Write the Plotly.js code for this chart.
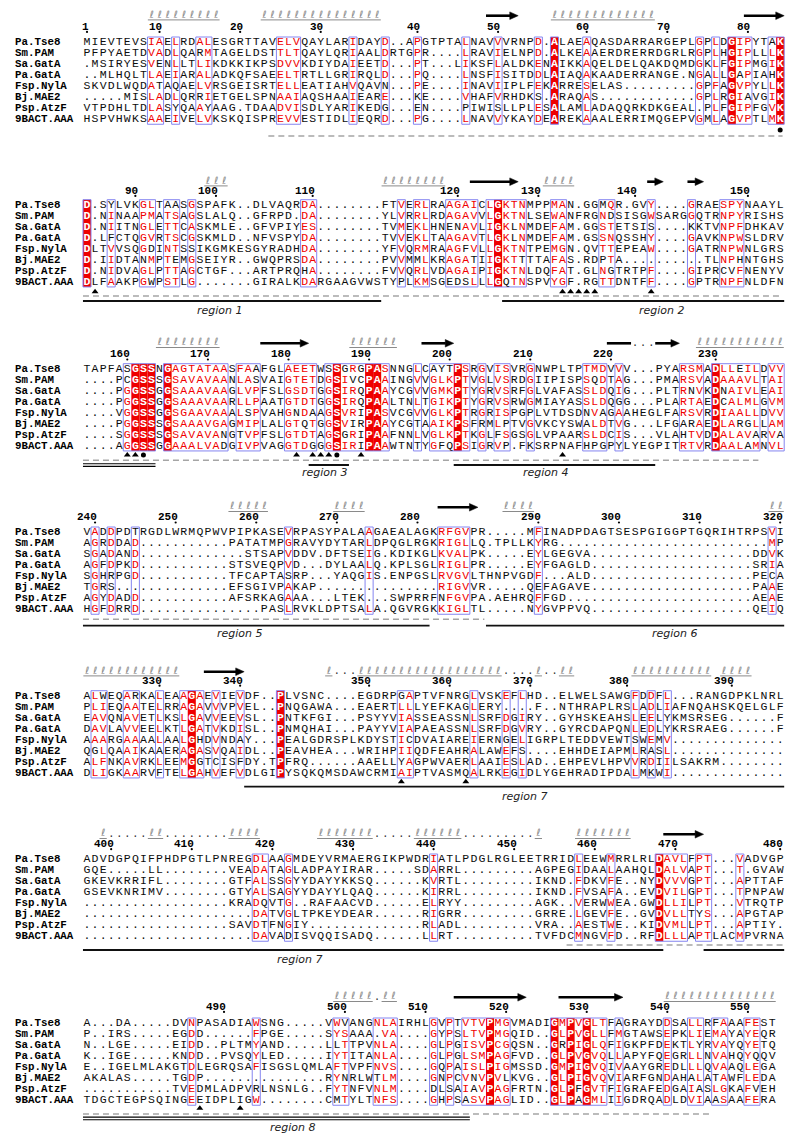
<!DOCTYPE html>
<html>
<head>
<meta charset="utf-8">
<script src="https://cdn.plot.ly/plotly-3.0.1.min.js"></script>
<style>
html,body{margin:0;padding:0;background:#ffffff;}
#chart{width:800px;height:1146px;}
</style>
</head>
<body>
<div id="chart"></div>
<script>
// ================= DATA =================
// Sequence names (same order in every block)
const names = ["Pa.Tse8","Sm.PAM","Sa.GatA","Pa.GatA","Fsp.NylA","Bj.MAE2","Psp.AtzF","9BACT.AAA"];

// Aligned sequences. Digits = run of that many gap dots.
// Lower-case letter = residue inside a framed column that is NOT highlighted (drawn black).
const seq1 = [
"MIEVTEVSIAELRDALESGRTTAVELVQAYLARIDAYD..APGTPTALNAVVVRNPD.ALAEAQASDARRARGEPLGPLDGIPYTaK",
"PFPYAETDVADLQArMTAGELDSTTLTQAYLQRIAALDRTGPR4LRAVIELNPD.ALKEAAERDRERRDGRLRGPLHGIPLLLK",
".MSIRYESVeNLLTLIKDKKIKPSDVVKDIYDAIEETD3PT3LIKSFLALDKENAIKKAQELDELQAKDQMDGKLFGIPMGIK",
"..MLHQLTLAEIARALADKQFSAEELTRTLLGRIRQLD3PQ4LNSFISITDDLAIAQAKAADERRANGE.NGALLGaPIAhK",
"SKVDLWQDAtAqAELVRSGEISRTELLEATIAHVQAVn3PE4INAVIIPLFEKARRESELAS9GPFAGVPYLLK",
"5MISLADLQRrIETGELSPNAAIAQSHAAIEARE3kE4VHAFVRHDKs.ARAQAS12GPLRGIaVGIK",
"VTPDHLTDLASyQAAyAAG.TDAADVISDLYARIKEDg3eN4pIWIsLLPLESALAMLADAQQRKDKGEAL.PLFGIPFGVK",
"HSPVHWKSAAEIVELVKSKQISPREVVESTIDLIEQRD3PG4LNAVVYKAYDEAREKAAALERRIMQGEPVGMLAGVPTLMK"
];
const seq2 = [
"D.SyLVKGLTaaSGSPAFK..DLVAQRDA8FTVERLRAAGAICLGKTNMPPMAN.GGmQR.GVY4GRAESPYNAAYL",
"D.NINAAPMATSAGSLALQ..GFRPD.DA8YLVRRLRDAGAVVLGKTNLSEWANFRGNdSISGWSARGGQTRNPYRISHS",
"D.NIITNGLETTCASKMLE..GFVPIYES8TVMEKLHNenAVLIGKlNMDEFAM.GGSTETSIs4kKTVNPFDHKAV",
"D.LfCTQGVRTSCGSKMLD..NFVSPYDA8TVVEKLTAAGAVTLGKlNMDEFAM.GSSNQSSHY4GAVKNPWSLDRV",
"DLTVVSQGdINTSsIKGMKESGYRADHDA8YFVQRMRAAGfVLLGKTNTPEMGN.QVTTEPEAW4GATRNPWNLGRS",
"D.IIDTAnMPTeMGSEIYR..GWQPRSDA8PVVMmLKRAGAtIIGKTtTTAFAS.RDpTA10TLNPhNTGHS",
"D.NIDVAGLPTTAGCTGF3ARTPRQhA8FVVQRLVDAGAIPIGKTNLDQFAT.GLNgTRTPF4GIPRcvFNENYV",
"DLFAAKPGwPSTLG7GIRALKDARGAAGVWSTYpLKMSGedsLLLGqTNSPVYGF.RGTTDNTFF4GPTRNPFNLDFN"
];
const seq3 = [
"TAPFAsGSSNGAGTATAASFAaFGLAEETWsSgRgPASNNGLCaytPSRGVISVRGNWPLTPTMDVVV3PYARSMADLLeILDVV",
"4PcGSSSGSAVAVAANLAsVAIGTETDGSIvcPAAINGVVGLKPTVGLVSRDGIIPISPSqDTAG3PMARSVADAAAVLTAI",
"4PGGSSGGSAAAVAAGLVPFSLGSDTGGSIRqPAAYCGVVGMKPTYGRVSRFGLVAFASSLDQIG3PLTRnVKDnAIVLEAI",
"4PGGSSGGSAAAVAARLLPAATGTDTGGSIRqPAALTNLTGIKPTYGRVSRWGMIAYASSLDQgG3PLARTAEDcALMLGVM",
"4VGGSSGGSGAAVAAALsPVAHGnDaAGSVRiPASVCGVVGLKPTRGRISPGpLVTDSDnVaGAAHEGLFARSVRDIAALLDVV",
"4PGGSSSGSAAAVGAGMIPLALGTqTGGSVirPAAYCGtAAIKPSFrMLpTVGVKCYSWaLDTVG3LFGarAEDLArgLLAM",
"4SGGSSSGSAVAVAnGtVPFSLGTDTAGSgRiPAAFNNLVGLKPTKGLfSGSGLVPAARSLDCIS3VLAhTVDDALAVaRVa",
"4AGGSSGGAAALVAdGIVPVAGGTDgGGSIRiPAAWTNtYGfqPSIGRVp.FkSRPNAFhpgPyLYEGPITRTVRDAALaMNVL"
];
const seq4 = [
"VADDPDtRGDLWRMQPWVPIPKASEVRPASYPALAAGAEALAGKRFGVPR5MFINADPDAGTSESPGIGGPTGQRIHTRPSVI",
"AGRDDAD11PATATMPGRAVYDYTARLDPQGLRGKRIGLLQ.TPLLKYRG26MP",
"SGADAND13STSAPVDDV.DFTSEIG.KDIKGLKVALPK5EYLGEGVA20DDVK",
"AGFDPKD11STSVEQPVD3DYLAALQ.KPLSGLRIGLPR5EYFGAGLD20SRIA",
"SGHrPGD11TFCAPTAsRP3YAQGIS.ENPGSLRVGVLTHNPVGDF3ALD20PEcA",
"TGRs14EFSGIVPAKAP15RIGVVR5QeFAGAVE20PAAE",
"AGYDADD11AFSRKAGAAA3LTEK3SWPRRFnFGVPA.AEHRQFFGD23AEAE",
"HGFDRRD15PASLRVKLDPTSALA.QGVRGKKIGLTL5NYGVPPVQ20QEIQ"
];
const seq5 = [
"ALwEQArKALEAAGAEVIEVDF..PLVSNC4EGDRPgAPTVFNRGLVSKEFLHD..ELWELSAWGFDDFL3RANGDPKLNRL",
"PLIEQAATELRRAGAVVVPVEL..PNQGAWA3EAERTLLLYEFKAGLERY4F..NTHRAPLRSLADLIAFNQAHSKQELGLF",
"EAVQNAVETLKSLGAVVEEVSL..PNTKFGI3PSYYVIASSEASSNLSRFDGIRY..GYHSKEAHSLEELyKMSRSEG6F",
"DAVLAVVEELKTLGATVKDISL..PNMQHAI3PAYYVIAPAEASSNLSRFDGVRY..GYRCDAPQNLEDLyKRSRAEG6F",
"AAARGAAAALAALGhDVNDaY3PEALGDRSPLKDYSTIcDVAIAREIERNgELIGRPLTEDDVEWTsWEMV14",
"QgLQAAIKAaERAGASVQAIDL..PEAVHEA3WRIHPIIQDFEAHRALAWEFs4EHHDEIAPMLRaSL14",
"ALFNKAVRKLEEMGgTcISfDY.TPFRQ6AAELLyAGPWVAERLAAIESLAD..EHPEVLHPVVRDIILSAKRM8",
"DLIGKAARVfTELGAHVEFVDLGIPYSQKQMSDAWCRMIAIPTVASMQALRKEGIDLYGEHRADIPDALMkWI14"
];
const seq6 = [
"ADVDGPQIFPHDPGTLPNREGDLAAGMDEYVRMAERGIKPWDRIATLPDGLRGLEETRRIDLEEWMRRLRLDAVLFPT3VADVGP",
"GQE5LL8VEADATAGLADPAYIRAR5SDARRL9AGPEGIDAALAAHQLDALVAPT3T.GVAW",
"GKEVKRRIFL8GTFALSSGYYDAYYKKSQ6KVRTL9IKND.FDKVFE..NYDVVVGPT3APTTAF",
"GSEVKNRIMV8GTYALSAGYYDAYYLQAQ6KIRRL9IKND.FVSAFA..EVDVILGPT3TPNPAW",
"18KRADqVTG..RAFAACVD6ELRYY9AGK..VERWWEA.GWDLLILPT3VTRQTP",
"21DATVGLTPKEYDEAR6RIGRR9GRRE.LGEVFE..GVDVLLTyS3APGTAP",
"18SAVDtFNGIY14RLADL9VRA..AESTWE..KIDVMLLPT3APTIY.",
"21DAVAdISVQQISADQ6LLRT10TVFDCMNGVFD..RFDLLLAPTLACMPVRNA"
];
const seq7 = [
"A3DA5DVNPASADIAWSNG5VWvANGNLAIRHLGVPTVTVPMGVMADIGMPVGLTFaGRAYDDSALLRfAAAFEST",
"P..IRS5EGDD6FPGE5SYSAAA.VA4GYPSLTVPMGQID..GLPVGLLFMGTAWSEPKLIEMAYAYEQR",
"N..LGE5EIDD..PLTMYAND5LlTTPVNLA4GLPGISVPCGQSN..GrPIGLQFIGKPFDEKTLyRVAYQYETQ",
"K..IGE5KNDD..PVSQYLED5IYTITANLA4GLPGLSMPAGFVD..GLPVGVQLLAPYFQEGRLLNVAHQYqQV",
"E..IGELMLAKGTDLEGRQSAFISGSLQMLAFTVPFNVS4GQPAISLPIGMSSD.GMPIGVQIVAAYGREDLLLQVAAQLEGA",
"AKALAS5TGDP15RYnRLWtLM4GNPCVnVPVlKVG..GLPIGVQVIARFGNDAHaLAtAWFLEDA",
"11TVEDMLADPVrLNSNLG..FYTNFVNLM4dLsAIaVPAGFRTN.GLPfGVTFIGRAFEDGAIaSLGKAFvEH",
"TDGCTEGPSQINGEEIDPLIGW8CmTYLTNFS4GHPSaSVPAGLID..GLPaGMLIIGDRQADLDVIAaSAAFERA"
];

// Framed (similar) column ranges and strictly conserved columns, per block
const frames1 = [[9,10],[12,12],[15,16],[25,27],[34,34],[38,38],[42,42],[48,48],[52,52],[57,57],[59,59],[63,63],[77,77],[79,79],[81,83],[86,87]];
const red1 = [59,81,87];
const frames2 = [[1,1],[4,4],[8,9],[11,12],[14,14],[28,29],[40,40],[42,43],[46,49],[51,55],[59,60],[65,66],[71,71],[76,76],[80,82]];
const red2 = [1,52];
const frames3 = [[6,9],[11,18],[20,22],[26,29],[31,38],[42,42],[44,48],[50,50],[52,53],[56,56],[63,65],[67,67],[75,77],[79,84],[86,87]];
const red3 = [7,8,9,11,32,36,37,47,79];
const frames4 = [[2,2],[4,4],[7,7],[26,26],[36,36],[45,48],[57,57],[86,86]];
const red4 = [];
const frames5 = [[2,3],[6,7],[10,10],[13,15],[17,17],[20,20],[25,25],[40,41],[49,49],[53,53],[55,55],[69,69],[71,71],[73,73]];
const red5 = [14,25];
const frames6 = [[22,23],[26,26],[44,44],[62,62],[66,66],[72,75],[77,78],[82,82]];
const red6 = [72];
const frames7 = [[14,14],[22,22],[32,33],[37,39],[44,44],[46,46],[48,53],[59,65],[67,67],[73,73],[76,77],[79,80],[83,84]];
const red7 = [51,59,61,63];

// Secondary structure of Pa.Tse8: H = helix turn, E = strand (arrow), L = strand segment, T = turn dots
const ss1 = [[9,17,"H"],[23,37,"H"],[51,54,"E"],[59,71,"H"],[83,87,"E"]];
const ss2 = [[16,18,"H"],[38,45,"H"],[49,54,"E"],[58,61,"H"],[71,72,"E"],[76,77,"E"]];
const ss3 = [[10,17,"H"],[23,28,"E"],[34,39,"H"],[43,46,"E"],[66,68,"L"],[69,71,"T"],[72,74,"E"],[77,87,"H"]];
const ss4 = [[19,23,"H"],[32,35,"H"],[45,49,"E"],[53,56,"H"],[86,87,"H"]];
const ss5 = [[1,12,"H"],[16,20,"E"],[31,31,"H"],[32,34,"T"],[35,52,"H"],[53,56,"T"],[57,57,"H"],[58,59,"T"],[60,61,"H"],[69,78,"H"],[80,83,"H"]];
const ss6 = [[3,3,"H"],[4,8,"T"],[9,10,"H"],[11,18,"T"],[19,22,"H"],[30,36,"H"],[37,41,"T"],[42,47,"H"],[48,56,"T"],[57,57,"H"],[62,68,"H"],[73,77,"E"]];
const ss7 = [[32,36,"H"],[37,37,"T"],[38,39,"H"],[47,55,"E"],[60,67,"E"],[73,86,"H"]];

// Site markers under the alignment (columns)
const tri1 = [], circ1 = [87];
const tri2 = [2,60,61,62,63,64,71], circ2 = [];
const tri3 = [6,7,27,29,30,31,35,60], circ3 = [8,32];
const tri4 = [], circ4 = [];
const tri5 = [40,48], circ5 = [];
const tri6 = [], circ6 = [];
const tri7 = [15,20], circ7 = [];

// Dashed line extents (columns)
const dash1 = [24,87], dash2 = [1,87], dash3 = [1,84], dash4 = [1,50], dash5 = null, dash6 = [61,87], dash7 = [1,78];

// Region bars [startCol, endCol, double?] and labels [text, centreCol]
const regions1 = [], labels1 = [];
const regions2 = [[1,37,0],[53,87,0]], labels2 = [["region 1",17.5],["region 2",72.3]];
const regions3 = [[1,9,1],[29,33,0],[47,71,0]], labels3 = [["region 3",30.5],["region 4",58.0]];
const regions4 = [[1,43,0],[51,87,0]], labels4 = [["region 5",20.0],["region 6",74.0]];
const regions5 = [[21,87,0]], labels5 = [["region 7",55.3]];
const regions6 = [[1,72,0],[78,87,0]], labels6 = [["region 7",27.4]];
const regions7 = [[1,48,1]], labels7 = [["region 8",26.6]];

// ================= LAYOUT / STYLE =================
const COLW = 8.06, X1PX = 87, STEP = 10.95, HALF = 5.3;
const col = px => 1 + (px - X1PX) / COLW;
const POS = [
  {top:42.3,  num:26.7,  ss:15.7,  mark:130,   dash:136},
  {top:205,   num:190.7, ss:181.7, mark:291.7, dash:296,   reg:301,   lab:310},
  {top:369,   num:354.3, ss:343.3, mark:455,   dash:460.3, reg:465,   lab:472.5},
  {top:532.3, num:517.3, ss:507.3, mark:614,   dash:619.3, reg:625.7, lab:633.5},
  {top:696,   num:680.5, ss:671.7, mark:781.7, dash:788,   reg:786.7, lab:796.7},
  {top:859.3, num:844,   ss:834.3, mark:940,   dash:945,   reg:950,   lab:959},
  {top:1023.3,num:1006.7,ss:997.3, mark:1108.3,dash:1114,  reg:1118.3,lab:1127}
];
const MONO = "Liberation Mono, Courier New, monospace";
const RED_FILL = "#ee0000", RED_TXT = "#f00000", FRAME = "#8585f0", GRAY = "#8a8a8a";

const blocks = [
  {seq:seq1, frames:frames1, red:red1, ss:ss1, tri:tri1, circ:circ1, dash:dash1, regions:regions1, labels:labels1},
  {seq:seq2, frames:frames2, red:red2, ss:ss2, tri:tri2, circ:circ2, dash:dash2, regions:regions2, labels:labels2},
  {seq:seq3, frames:frames3, red:red3, ss:ss3, tri:tri3, circ:circ3, dash:dash3, regions:regions3, labels:labels3},
  {seq:seq4, frames:frames4, red:red4, ss:ss4, tri:tri4, circ:circ4, dash:dash4, regions:regions4, labels:labels4},
  {seq:seq5, frames:frames5, red:red5, ss:ss5, tri:tri5, circ:circ5, dash:dash5, regions:regions5, labels:labels5},
  {seq:seq6, frames:frames6, red:red6, ss:ss6, tri:tri6, circ:circ6, dash:dash6, regions:regions6, labels:labels6},
  {seq:seq7, frames:frames7, red:red7, ss:ss7, tri:tri7, circ:circ7, dash:dash7, regions:regions7, labels:labels7}
];

const expand = s => s.replace(/\d+/g, m => ".".repeat(parseInt(m, 10)));

const groups = {k:{x:[],y:[],t:[]}, r:{x:[],y:[],t:[]}, w:{x:[],y:[],t:[]}};
const helix = {x:[],y:[],t:[]}, turns = {x:[],y:[],t:[]};
const triP = {x:[],y:[]}, cirP = {x:[],y:[]}, numDot = {x:[],y:[]};
const shapes = [], annotations = [];
let resCount = 0;

blocks.forEach((b, bi) => {
  const P = POS[bi];
  const rows = b.seq.map(expand);
  const rowY = i => P.top + i * STEP;
  const yTop = rowY(0) - HALF, yBot = rowY(7) + HALF;
  const inFrame = new Set();
  b.frames.forEach(([s, e]) => { for (let c = s; c <= e; c++) inFrame.add(c); });
  const redSet = new Set(b.red);

  // conserved columns (red boxes)
  b.red.forEach(c => shapes.push({type:"rect", xref:"x", yref:"y", x0:c-0.5, x1:c+0.5, y0:yTop, y1:yBot,
    fillcolor:RED_FILL, line:{width:0}, layer:"below"}));
  // frames
  b.frames.forEach(([s, e]) => shapes.push({type:"rect", xref:"x", yref:"y", x0:s-0.5, x1:e+0.5, y0:yTop, y1:yBot,
    fillcolor:"rgba(0,0,0,0)", line:{color:FRAME, width:1}, layer:"below"}));

  rows.forEach((r, i) => {
    const y = rowY(i);
    annotations.push({x:col(13), y:y, xref:"x", yref:"y", text:names[i], showarrow:false,
      xanchor:"left", yanchor:"middle", font:{family:MONO, size:10.8, color:"#000", weight:"bold"}});
    for (let k = 0; k < r.length; k++) {
      const c = k + 1, ch = r[k], up = ch.toUpperCase();
      let g = "k";
      if (redSet.has(c)) g = "w";
      else if (inFrame.has(c) && ch !== "." && ch === up) g = "r";
      groups[g].x.push(c); groups[g].y.push(y); groups[g].t.push(up);
    }
  });

  // numbering from the first sequence
  const first = rows[0];
  for (let k = 0; k < first.length; k++) {
    if (first[k] === ".") continue;
    resCount++;
    if (resCount === 1 || resCount % 10 === 0) {
      const c = k + 1;
      annotations.push({x:c + 0.42, y:P.num, xref:"x", yref:"y", text:String(resCount), showarrow:false,
        xanchor:"right", yanchor:"middle", font:{family:MONO, size:11, color:"#000", weight:"bold"}, borderpad:0});
      numDot.x.push(c); numDot.y.push(P.num + 5.2);
    }
  }

  // secondary structure
  b.ss.forEach(([s, e, t]) => {
    if (t === "H") {
      for (let c = s; c <= e; c++) { helix.x.push(c); helix.y.push(P.ss - 0.5); helix.t.push("ℓ"); }
      shapes.push({type:"line", xref:"x", yref:"y", x0:s-0.45, x1:e+0.45, y0:P.ss+4.2, y1:P.ss+4.2,
        line:{color:GRAY, width:1}});
    } else if (t === "T") {
      for (let c = s; c <= e; c++) { turns.x.push(c); turns.y.push(P.ss); turns.t.push("."); }
    } else if (t === "L") {
      shapes.push({type:"line", xref:"x", yref:"y", x0:s-0.5, x1:e+0.5, y0:P.ss, y1:P.ss, line:{color:"#000", width:2.6}});
    } else {
      const xe = e + 0.5, xh = xe - 1.05;
      shapes.push({type:"line", xref:"x", yref:"y", x0:s-0.5, x1:xh+0.05, y0:P.ss, y1:P.ss, line:{color:"#000", width:2.6}});
      shapes.push({type:"path", xref:"x", yref:"y",
        path:"M " + xh + "," + (P.ss-3.8) + " L " + xe + "," + P.ss + " L " + xh + "," + (P.ss+3.8) + " Z",
        fillcolor:"#000", line:{color:"#000", width:0.5}});
    }
  });

  b.tri.forEach(c => { triP.x.push(c); triP.y.push(P.mark); });
  b.circ.forEach(c => { cirP.x.push(c); cirP.y.push(P.mark); });

  if (b.dash) shapes.push({type:"line", xref:"x", yref:"y", x0:b.dash[0]-0.5, x1:b.dash[1]+0.3, y0:P.dash, y1:P.dash,
    line:{color:"#a5a5a5", width:1.4, dash:"6px,4px"}});

  b.regions.forEach(([s, e, dbl]) => {
    if (dbl) {
      shapes.push({type:"line", xref:"x", yref:"y", x0:s-0.5, x1:e+0.5, y0:P.reg-1.2, y1:P.reg-1.2, line:{color:"#000", width:1.1}});
      shapes.push({type:"line", xref:"x", yref:"y", x0:s-0.5, x1:e+0.5, y0:P.reg+1.4, y1:P.reg+1.4, line:{color:"#000", width:1.1}});
    } else {
      shapes.push({type:"line", xref:"x", yref:"y", x0:s-0.5, x1:e+0.5, y0:P.reg, y1:P.reg, line:{color:"#111", width:1.8}});
    }
  });
  b.labels.forEach(([txt, c]) => annotations.push({x:c, y:P.lab, xref:"x", yref:"y", text:txt, showarrow:false,
    xanchor:"center", yanchor:"middle", font:{family:"DejaVu Sans, Verdana, sans-serif", size:11, color:"#222", style:"italic"}}));
});

const txtTrace = (g, color, weight) => ({type:"scatter", mode:"text", x:g.x, y:g.y, text:g.t,
  textposition:"middle center", textfont:{family:MONO, size:11.5, color:color, weight:weight},
  hoverinfo:"skip", cliponaxis:false, showlegend:false});

const traces = [
  txtTrace(groups.k, "#0d0d0d", "normal"),
  txtTrace(groups.r, RED_TXT, "normal"),
  txtTrace(groups.w, "#ffffff", "bold"),
  {type:"scatter", mode:"text", x:helix.x, y:helix.y, text:helix.t, textposition:"middle center",
    textfont:{family:"DejaVu Sans, sans-serif", size:10, color:GRAY}, hoverinfo:"skip", showlegend:false, cliponaxis:false},
  {type:"scatter", mode:"text", x:turns.x, y:turns.y, text:turns.t, textposition:"middle center",
    textfont:{family:MONO, size:11, color:"#333"}, hoverinfo:"skip", showlegend:false, cliponaxis:false},
  {type:"scatter", mode:"markers", x:triP.x, y:triP.y, marker:{symbol:"triangle-up", size:6, color:"#000"}, hoverinfo:"skip", showlegend:false},
  {type:"scatter", mode:"markers", x:cirP.x, y:cirP.y, marker:{symbol:"circle", size:5, color:"#000"}, hoverinfo:"skip", showlegend:false},
  {type:"scatter", mode:"markers", x:numDot.x, y:numDot.y, marker:{symbol:"circle", size:2.2, color:"#000"}, hoverinfo:"skip", showlegend:false}
];

const layout = {
  width:800, height:1146, margin:{l:0, r:0, t:0, b:0},
  paper_bgcolor:"#ffffff", plot_bgcolor:"#ffffff", showlegend:false,
  xaxis:{range:[col(0), col(800)], visible:false, fixedrange:true},
  yaxis:{range:[1146, 0], visible:false, fixedrange:true},
  shapes:shapes, annotations:annotations
};
Plotly.newPlot("chart", traces, layout, {staticPlot:true, displayModeBar:false});
</script>
</body>
</html>
